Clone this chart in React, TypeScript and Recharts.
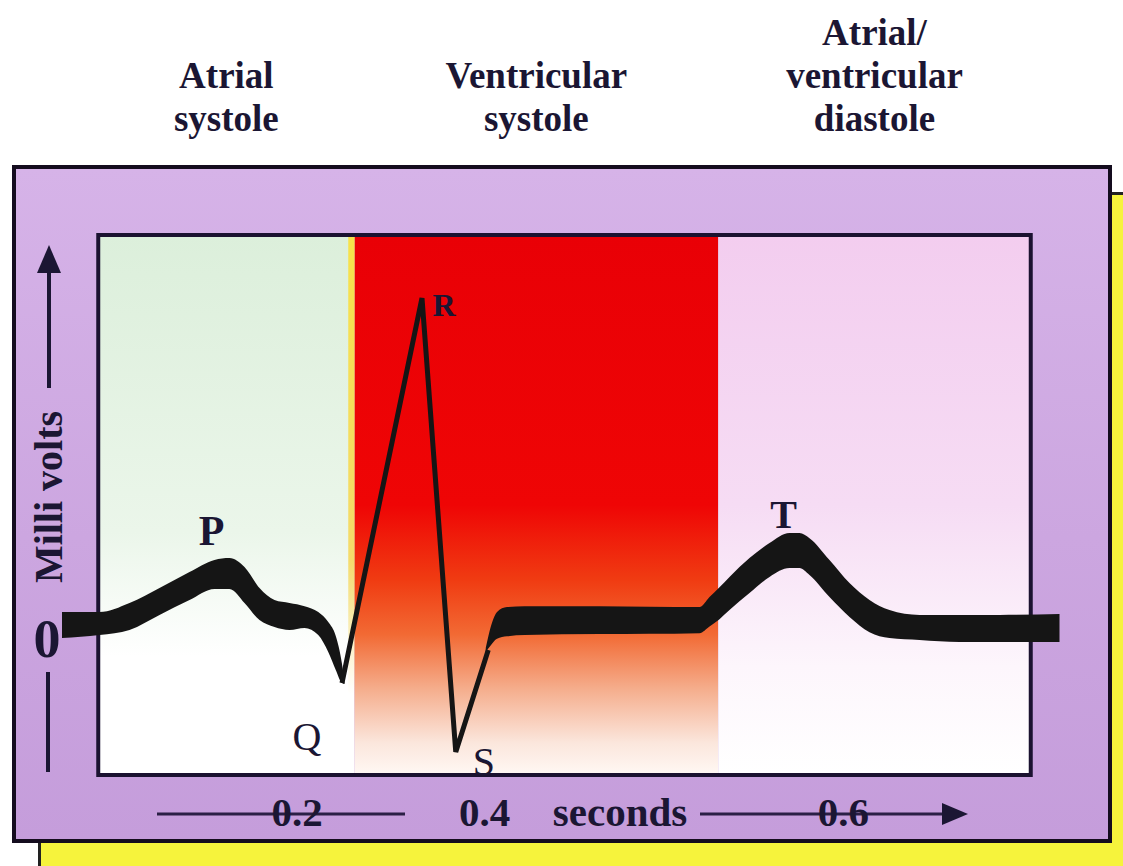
import React from 'react';
import { ComposedChart, Area, Line, XAxis, YAxis, ReferenceArea, ReferenceDot } from 'recharts';

// schematic time units along x, millivolts on y
// thick traces are stored as [t, upper edge, lower edge]
const pWave: [number, number, number][] = [
  [0, 0.064, -0.042],
  [30, 0.064, -0.03],
  [54, 0.101, -0.009],
  [78, 0.162, 0.052],
  [102, 0.227, 0.113],
  [122, 0.276, 0.158],
  [134, 0.284, 0.158],
  [146, 0.247, 0.101],
  [158, 0.162, 0.031],
  [170, 0.113, 0.003],
  [182, 0.101, -0.009],
  [194, 0.088, -0.001],
  [205, 0.064, -0.03],
  [213, 0.023, -0.099],
  [219, -0.034, -0.172],
  [224, -0.148, -0.225],
  [226, -0.225, -0.229],
];

// Q, R, S and the return towards the baseline
const qrsComplex: [number, number][] = [
  [224, -0.225],
  [288, 1.343],
  [315, -0.506],
  [341, -0.091],
];

const stWave: [number, number, number][] = [
  [339, -0.083, -0.099],
  [344, 0.02, -0.065],
  [348, 0.064, -0.045],
  [356, 0.084, -0.035],
  [370, 0.088, -0.03],
  [430, 0.088, -0.026],
  [510, 0.084, -0.022],
  [518, 0.125, 0.005],
  [526, 0.165, 0.035],
  [534, 0.207, 0.072],
  [550, 0.284, 0.141],
  [566, 0.345, 0.207],
  [582, 0.386, 0.243],
  [590, 0.386, 0.243],
  [598, 0.365, 0.215],
  [614, 0.276, 0.125],
  [630, 0.182, 0.044],
  [646, 0.113, -0.018],
  [662, 0.072, -0.042],
  [686, 0.052, -0.05],
  [718, 0.052, -0.058],
  [750, 0.052, -0.058],
  [798, 0.056, -0.058],
];

const phaseTitles = [['Atrial', 'systole'], ['Ventricular', 'systole'], ['Atrial/', 'ventricular', 'diastole']];
const phaseStart = [29, 234, 525];
const phaseEnd = [234, 525, 775];
const phaseFills = ['url(#atrialFill)', 'url(#ventFill)', 'url(#diastFill)'];

const timeTicks = [188, 338, 625];
const timeTickLabels = ['0.2', '0.4', '0.6'];
const voltTicks = [0];
const waveLetters = ['P', 'Q', 'R', 'S', 'T'];

const SERIF = '"Liberation Serif", "Times New Roman", serif';
const INK = '#1b1633';
const TRACE = '#151515';

const toBand = (rows: [number, number, number][]) => rows.map(([t, hi, lo]) => ({ t, hi, lo }));
const pData = toBand(pWave);
const stData = toBand(stWave);
const qrsData = qrsComplex.map(([t, v]) => ({ t, v }));

const peakOf = (rows: { t: number; hi: number }[]) => rows.reduce((a, b) => (b.hi > a.hi ? b : a));
const pPeak = peakOf(pData);
const tPeak = peakOf(stData);
const letterAnchors: Record<string, { t: number; v: number }> = {
  P: { t: pPeak.t, v: pPeak.hi },
  Q: qrsData[0],
  R: qrsData[1],
  S: qrsData[2],
  T: { t: tPeak.t, v: tPeak.hi },
};
const letterStyle: Record<string, { dx: number; dy: number; size: number; weight: number }> = {
  P: { dx: -18, dy: -13, size: 42, weight: 700 },
  Q: { dx: -35, dy: 67, size: 40, weight: 400 },
  R: { dx: 22, dy: 18, size: 32, weight: 700 },
  S: { dx: 28, dy: 23, size: 40, weight: 400 },
  T: { dx: -6, dy: -5, size: 40, weight: 700 },
};

const TITLE_SIZE = 37;
const TITLE_STEP = 43;

const titleLabel = (lines: string[]) => (props: any) => {
  const { x, y, width } = props.viewBox;
  const cx = x + width / 2;
  const last = y - 104;
  return (
    <g>
      {lines.map((l, i) => (
        <text
          key={i}
          x={cx}
          y={last - (lines.length - 1 - i) * TITLE_STEP}
          textAnchor="middle"
          fontFamily={SERIF}
          fontWeight={700}
          fontSize={TITLE_SIZE}
          fill={INK}
        >
          {l}
        </text>
      ))}
    </g>
  );
};

const letterLabel = (name: string) => (props: any) => {
  const { x, y, width, height } = props.viewBox;
  const s = letterStyle[name];
  return (
    <text
      x={x + width / 2 + s.dx}
      y={y + height / 2 + s.dy}
      textAnchor="middle"
      fontFamily={SERIF}
      fontWeight={s.weight}
      fontSize={s.size}
      fill={INK}
    >
      {name}
    </text>
  );
};

const VoltTick = (props: any) => (
  <text x={props.x - 15} y={props.y + 29} textAnchor="middle" fontFamily={SERIF} fontWeight={700} fontSize={54} fill={INK}>
    {props.payload.value}
  </text>
);

const TimeTick = (props: any) => {
  const i = timeTicks.indexOf(props.payload.value);
  return (
    <text x={props.x} y={props.y + 51} textAnchor="middle" fontFamily={SERIF} fontWeight={700} fontSize={41} fill={INK}>
      {timeTickLabels[i]}
    </text>
  );
};

const voltAxisLabel = (props: any) => {
  const { x, y } = props.viewBox;
  const cx = x + 37;
  return (
    <g>
      <line x1={cx} y1={y + 153} x2={cx} y2={y + 34} stroke={INK} strokeWidth={4} />
      <polygon points={`${cx},${y + 10} ${cx - 12},${y + 38} ${cx + 12},${y + 38}`} fill={INK} />
      <text
        transform={`translate(${cx + 13}, ${y + 262}) rotate(-90)`}
        textAnchor="middle"
        fontFamily={SERIF}
        fontWeight={700}
        fontSize={40}
        fill={INK}
      >
        Milli volts
      </text>
      <line x1={cx - 1} y1={y + 437} x2={cx - 1} y2={y + 537} stroke={INK} strokeWidth={4} />
    </g>
  );
};

const timeAxisLabel = (props: any) => {
  const { x, y } = props.viewBox;
  const ly = y + 39;
  return (
    <g>
      <line x1={x + 95} y1={ly} x2={x + 343} y2={ly} stroke="#2a1f45" strokeWidth={3} />
      <text x={x + 558} y={y + 51} textAnchor="middle" fontFamily={SERIF} fontWeight={700} fontSize={41} fill={INK}>
        seconds
      </text>
      <line x1={x + 638} y1={ly} x2={x + 885} y2={ly} stroke="#2a1f45" strokeWidth={3} />
      <polygon points={`${x + 906},${ly} ${x + 880},${ly - 11} ${x + 880},${ly + 11}`} fill={INK} />
    </g>
  );
};

export default function App() {
  return (
    <div style={{ position: 'absolute', left: 0, top: 0, width: 1123, height: 866, overflow: 'hidden', background: '#ffffff' }}>
      <div
        style={{
          position: 'absolute',
          left: 38,
          top: 192,
          width: 1100,
          height: 700,
          background: '#f6f33c',
          borderLeft: '3px solid #222',
          borderTop: '3px solid #222',
        }}
      />
      <div
        style={{
          position: 'absolute',
          left: 12,
          top: 165,
          width: 1100,
          height: 678,
          boxSizing: 'border-box',
          border: '4px solid #140c1e',
          background: 'linear-gradient(180deg, #d6b3e8 0%, #cca6e0 55%, #c59ddb 100%)',
        }}
      />
      <div style={{ position: 'absolute', left: 0, top: 0 }}>
        <ComposedChart width={1123} height={866} margin={{ top: 235, right: 61, bottom: 0, left: 12 }}>
          <defs>
            <linearGradient id="atrialFill" x1="0" y1="0" x2="0" y2="1">
              <stop offset="0%" stopColor="#dcefdb" />
              <stop offset="55%" stopColor="#ebf6ea" />
              <stop offset="78%" stopColor="#ffffff" />
              <stop offset="100%" stopColor="#ffffff" />
            </linearGradient>
            <linearGradient id="ventFill" x1="0" y1="0" x2="0" y2="1">
              <stop offset="0%" stopColor="#e90006" />
              <stop offset="50%" stopColor="#ef0505" />
              <stop offset="64%" stopColor="#f03c12" />
              <stop offset="74%" stopColor="#f26a34" />
              <stop offset="84%" stopColor="#f5ad8c" />
              <stop offset="94%" stopColor="#fbe6dc" />
              <stop offset="100%" stopColor="#fff8f4" />
            </linearGradient>
            <linearGradient id="diastFill" x1="0" y1="0" x2="0" y2="1">
              <stop offset="0%" stopColor="#f3cdef" />
              <stop offset="50%" stopColor="#f6dcf4" />
              <stop offset="80%" stopColor="#fdf6fc" />
              <stop offset="100%" stopColor="#ffffff" />
            </linearGradient>
            <linearGradient id="seamFill" x1="0" y1="0" x2="0" y2="1">
              <stop offset="0%" stopColor="#f7e24a" />
              <stop offset="60%" stopColor="#f7d44a" stopOpacity={0.8} />
              <stop offset="85%" stopColor="#f7d44a" stopOpacity={0} />
            </linearGradient>
          </defs>

          <XAxis
            dataKey="t"
            type="number"
            domain={[0, 800]}
            ticks={timeTicks}
            interval={0}
            height={91}
            tickSize={0}
            tickMargin={0}
            axisLine={false}
            tickLine={false}
            tick={TimeTick}
            label={timeAxisLabel}
          />
          <YAxis
            type="number"
            domain={[-0.6, 1.6]}
            ticks={voltTicks}
            width={50}
            tickSize={0}
            tickMargin={0}
            axisLine={false}
            tickLine={false}
            tick={VoltTick}
            label={voltAxisLabel}
          />

          {phaseTitles.map((lines, i) => (
            <ReferenceArea
              key={lines.join(' ')}
              x1={phaseStart[i]}
              x2={phaseEnd[i]}
              y1={-0.6}
              y2={1.6}
              fill={phaseFills[i]}
              fillOpacity={1}
              stroke="none"
              label={titleLabel(lines)}
            />
          ))}
          <ReferenceArea x1={phaseEnd[0] - 5} x2={phaseEnd[0]} y1={-0.6} y2={1.6} fill="url(#seamFill)" fillOpacity={1} stroke="none" />
          <ReferenceArea
            x1={phaseStart[0]}
            x2={phaseEnd[2]}
            y1={-0.6}
            y2={1.6}
            fill="none"
            stroke="#1b1230"
            strokeWidth={4}
          />

          <Area
            data={pData}
            dataKey={(d: any) => [d.lo, d.hi]}
            type="monotone"
            stroke="none"
            fill={TRACE}
            fillOpacity={1}
            dot={false}
            activeDot={false}
            isAnimationActive={false}
          />
          <Line
            data={qrsData}
            dataKey="v"
            type="linear"
            stroke={TRACE}
            strokeWidth={5}
            strokeLinejoin="miter"
            dot={false}
            activeDot={false}
            isAnimationActive={false}
          />
          <Area
            data={stData}
            dataKey={(d: any) => [d.lo, d.hi]}
            type="monotone"
            stroke="none"
            fill={TRACE}
            fillOpacity={1}
            dot={false}
            activeDot={false}
            isAnimationActive={false}
          />

          {waveLetters.map((name) => (
            <ReferenceDot
              key={name}
              x={letterAnchors[name].t}
              y={letterAnchors[name].v}
              r={0}
              fill="none"
              stroke="none"
              label={letterLabel(name)}
            />
          ))}
        </ComposedChart>
      </div>
    </div>
  );
}
